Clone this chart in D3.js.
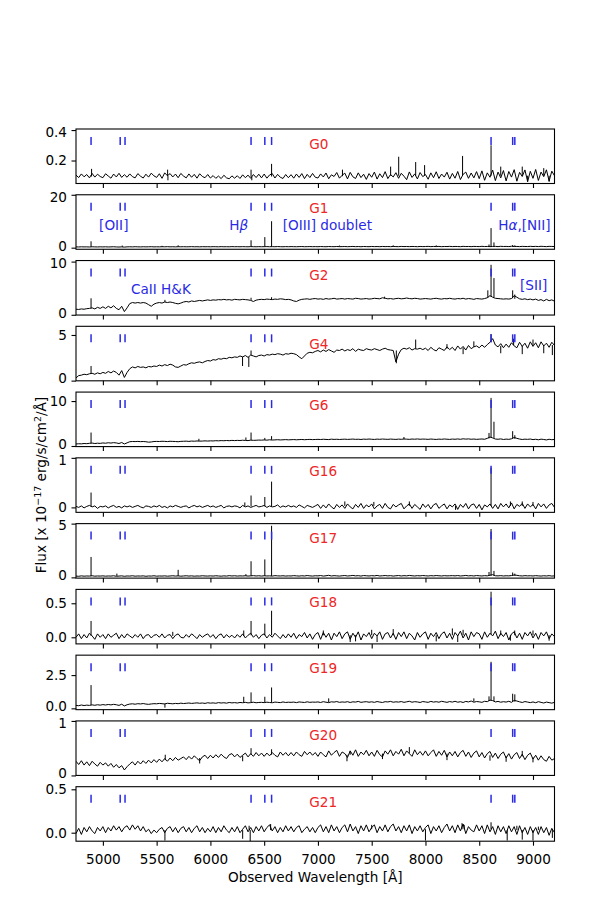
<!DOCTYPE html>
<html><head><meta charset="utf-8">
<script src="https://cdn.jsdelivr.net/npm/d3@7"></script>
<style>body{margin:0;background:#fff}svg{display:block}text{font-family:"DejaVu Sans",sans-serif}</style>
</head><body><svg id="c" width="591" height="909"></svg>
<script>
// ---------------- DATA ----------------
const panelNames = ["G0","G1","G2","G4","G6","G16","G17","G18","G19","G20","G21"];
const wavelengthGrid = d3.range(4750, 9201, 25); // observed wavelength [Å]
const xTicks = [5000,5500,6000,6500,7000,7500,8000,8500,9000];
// redshifted line positions: [OII], CaII K, CaII H, Hβ, [OIII]4959, [OIII]5007, Hα, [SII]6716, [SII]6731
const lineMarkers = [4890,5161,5206,6378,6506,6569,8610,8811,8831];

const fluxG0 = [
0.104,0.088,0.112,0.093,0.108,0.086,0.115,0.091,0.110,0.095,
0.087,0.113,0.098,0.084,0.111,0.092,0.116,0.089,0.107,0.090,
0.112,0.094,0.086,0.114,0.097,0.085,0.110,0.091,0.117,0.099,
0.089,0.113,0.083,0.119,0.100,0.114,0.092,0.111,0.087,0.115,
0.098,0.086,0.112,0.090,0.109,0.084,0.113,0.095,0.087,0.108,
0.085,0.101,0.083,0.098,0.081,0.103,0.086,0.080,0.099,0.084,
0.100,0.082,0.106,0.087,0.104,0.083,0.108,0.088,0.110,0.086,
0.111,0.084,0.105,0.114,0.085,0.109,0.090,0.082,0.108,0.087,
0.107,0.084,0.111,0.089,0.114,0.081,0.109,0.088,0.115,0.090,
0.085,0.112,0.092,0.118,0.080,0.106,0.095,0.121,0.084,0.103,
0.117,0.079,0.122,0.093,0.082,0.119,0.088,0.110,0.076,0.114,
0.090,0.124,0.078,0.113,0.088,0.127,0.081,0.108,0.092,0.120,
0.083,0.116,0.097,0.074,0.125,0.089,0.112,0.079,0.121,0.094,
0.108,0.077,0.119,0.087,0.126,0.082,0.111,0.091,0.123,0.078,
0.115,0.084,0.128,0.075,0.109,0.124,0.083,0.118,0.086,0.127,
0.081,0.132,0.070,0.119,0.090,0.137,0.068,0.124,0.086,0.134,
0.066,0.128,0.091,0.140,0.064,0.122,0.095,0.138,0.062,0.129,
0.083,0.141,0.069,0.124,0.094,0.139,0.065,0.130,0.100];
const fluxG1 = [
0.30,0.27,0.33,0.29,0.31,0.26,0.34,0.30,0.28,0.32,
0.29,0.33,0.27,0.31,0.35,0.28,0.25,0.30,0.22,0.31,
0.34,0.30,0.36,0.32,0.29,0.35,0.31,0.33,0.37,0.30,
0.34,0.31,0.36,0.33,0.38,0.32,0.35,0.30,0.36,0.34,
0.37,0.33,0.35,0.39,0.34,0.36,0.32,0.38,0.35,0.37,
0.34,0.38,0.36,0.33,0.39,0.35,0.37,0.34,0.40,0.36,
0.38,0.35,0.39,0.36,0.34,0.40,0.37,0.35,0.39,0.36,
0.38,0.41,0.36,0.39,0.37,0.42,0.38,0.35,0.40,0.37,
0.41,0.38,0.36,0.40,0.43,0.37,0.39,0.42,0.38,0.40,
0.37,0.43,0.39,0.36,0.44,0.40,0.38,0.45,0.39,0.41,
0.44,0.38,0.42,0.46,0.39,0.43,0.37,0.45,0.41,0.38,
0.46,0.40,0.43,0.38,0.47,0.41,0.44,0.39,0.45,0.42,
0.39,0.48,0.42,0.45,0.40,0.46,0.43,0.38,0.47,0.41,
0.44,0.49,0.40,0.46,0.42,0.48,0.39,0.45,0.43,0.50,
0.41,0.47,0.44,0.39,0.50,0.43,0.46,0.40,0.48,0.45,
0.42,0.51,0.44,0.47,0.40,0.46,0.49,0.41,0.52,0.45,
0.48,0.42,0.53,0.44,0.47,0.41,0.50,0.45,0.43,0.51,
0.44,0.49,0.42,0.52,0.46,0.40,0.50,0.47,0.43];
const fluxG2 = [
1.05,1.00,1.10,1.04,1.15,1.20,1.30,1.10,1.40,1.20,
1.50,1.20,1.60,1.30,1.70,1.20,0.95,1.60,0.60,1.30,
2.10,2.30,2.20,2.30,2.20,2.30,2.20,1.90,1.60,2.00,
2.20,2.30,2.20,2.40,2.30,2.40,2.30,2.15,2.05,2.20,
2.40,2.50,2.40,2.60,2.50,2.60,2.70,2.60,2.70,2.80,
2.70,2.80,2.75,2.85,2.80,2.90,2.80,2.85,2.75,2.90,
2.85,2.80,2.90,2.85,2.80,2.70,2.50,2.75,2.85,2.90,
2.85,2.95,2.90,2.85,2.95,2.90,3.00,2.95,2.85,2.90,
2.80,2.60,2.50,2.75,2.90,2.95,3.00,2.90,3.00,3.05,
2.95,3.00,2.90,3.05,2.95,3.00,3.10,2.95,3.00,3.05,
2.95,3.05,3.00,2.95,3.10,3.05,2.95,3.00,3.05,2.95,
3.00,3.10,3.05,3.00,3.20,3.10,3.00,3.05,2.95,3.05,
3.10,3.00,3.05,3.15,3.05,3.00,3.10,3.05,2.95,3.00,
3.05,3.00,2.95,3.05,3.10,3.00,2.95,3.05,3.00,3.10,
3.00,2.95,3.05,3.00,3.10,2.95,3.05,3.00,2.90,3.05,
3.00,2.95,3.05,3.20,3.60,3.30,3.10,3.05,3.00,2.95,
3.00,2.95,3.05,3.60,3.30,3.00,2.90,3.00,2.85,2.95,
2.80,2.95,2.70,2.85,2.60,2.90,2.65,2.80,2.55];
const fluxG4 = [
0.30,0.55,0.60,0.70,0.65,0.75,0.80,0.70,0.85,0.75,
0.90,0.80,1.00,0.85,1.05,0.90,0.60,1.10,0.35,0.90,
1.30,1.50,1.40,1.55,1.45,1.50,1.40,1.55,1.50,1.60,
1.55,1.70,1.60,1.75,1.65,1.80,1.70,1.50,1.45,1.60,
1.75,1.70,1.85,1.95,1.90,2.00,2.05,1.95,2.10,2.20,
2.15,2.30,2.25,2.40,2.35,2.45,2.40,2.55,2.50,2.60,
2.55,2.70,2.60,2.75,2.55,2.80,2.70,2.60,2.75,2.80,
2.70,2.85,2.80,2.90,2.85,2.95,2.90,2.80,2.95,2.90,
3.00,2.95,2.85,2.60,2.40,2.70,3.00,3.10,3.05,3.20,
3.30,3.15,3.35,3.20,3.40,3.25,3.10,3.35,3.30,3.45,
3.25,3.40,3.30,3.50,3.20,3.45,3.35,3.30,3.50,3.40,
3.35,3.50,3.40,3.30,3.45,3.55,3.40,3.35,3.30,2.05,
2.90,3.40,3.55,3.45,3.60,3.35,3.50,3.45,3.55,3.40,
3.55,3.30,3.65,3.40,3.25,3.60,3.45,3.30,3.70,3.40,
3.65,3.30,3.80,3.45,3.75,3.35,3.85,3.50,3.70,3.80,
3.60,3.90,3.65,3.95,4.20,4.60,3.90,3.70,4.05,3.60,
4.00,3.65,4.15,3.80,3.60,4.20,3.75,4.10,3.55,4.25,
3.75,4.15,3.60,4.25,3.80,4.10,3.65,4.20,3.85];
const fluxG6 = [
0.45,0.50,0.48,0.55,0.52,0.60,0.65,0.55,0.62,0.58,
0.68,0.62,0.72,0.65,0.75,0.68,0.55,0.78,0.45,0.70,
0.95,1.00,0.98,1.02,0.97,1.00,0.95,0.85,0.90,1.00,
1.02,1.00,1.05,1.03,0.98,1.05,1.02,1.00,0.95,1.03,
1.05,1.08,1.02,1.10,1.06,1.12,1.08,1.10,1.14,1.10,
1.15,1.12,1.18,1.15,1.20,1.17,1.22,1.18,1.25,1.20,
1.25,1.22,1.28,1.24,1.20,1.30,1.26,1.28,1.32,1.30,
1.35,1.30,1.38,1.33,1.36,1.40,1.35,1.38,1.42,1.37,
1.40,1.43,1.38,1.42,1.45,1.40,1.44,1.47,1.42,1.45,
1.48,1.44,1.50,1.46,1.43,1.52,1.47,1.50,1.45,1.49,
1.52,1.47,1.50,1.54,1.48,1.51,1.45,1.53,1.49,1.55,
1.50,1.46,1.53,1.49,1.55,1.51,1.48,1.54,1.50,1.47,
1.53,1.49,1.56,1.52,1.48,1.55,1.51,1.57,1.50,1.54,
1.52,1.48,1.55,1.50,1.46,1.53,1.49,1.56,1.51,1.47,
1.54,1.50,1.57,1.49,1.60,1.53,1.58,1.50,1.55,1.48,
1.52,1.56,1.50,1.70,2.00,1.80,1.55,1.50,1.58,1.45,
1.53,1.48,1.60,1.90,1.70,1.55,1.45,1.52,1.48,1.55,
1.42,1.50,1.38,1.52,1.45,1.35,1.50,1.40,1.46];
const fluxG16 = [
0.02,0.00,0.03,-0.01,0.02,0.04,0.01,0.03,-0.02,0.02,
0.01,0.03,-0.01,0.02,0.04,0.00,0.02,-0.01,0.03,0.01,
0.03,0.00,0.02,0.04,0.01,-0.01,0.03,0.02,0.00,0.03,
0.01,0.04,0.00,0.02,-0.01,0.03,0.01,0.04,0.02,0.00,
0.02,0.03,-0.01,0.02,0.04,0.01,0.03,0.00,0.02,0.04,
0.01,0.03,0.00,0.02,0.04,-0.01,0.02,0.03,0.01,0.03,
0.02,-0.01,0.04,0.01,0.03,0.00,0.02,0.04,0.01,0.02,
0.04,0.00,0.03,0.01,0.02,0.05,0.00,0.03,0.01,0.04,
0.01,0.03,0.00,0.05,0.02,-0.01,0.04,0.02,0.00,0.03,
0.06,-0.02,0.05,-0.01,0.07,0.01,-0.03,0.06,0.00,0.05,
-0.02,0.07,0.01,-0.03,0.06,0.00,0.08,-0.02,0.05,0.01,
0.07,-0.03,0.03,0.06,-0.02,0.08,0.00,-0.03,0.06,0.01,
0.05,0.08,-0.03,0.03,0.07,-0.02,0.06,0.01,-0.04,0.07,
0.00,0.06,-0.03,0.05,0.08,-0.02,0.03,0.07,-0.03,0.05,
0.01,0.07,-0.04,0.06,0.00,0.08,-0.03,0.05,0.07,-0.02,
0.06,-0.05,0.05,0.01,0.07,-0.02,0.06,-0.03,0.08,0.01,
0.07,-0.01,0.09,-0.03,0.06,0.02,0.08,-0.02,0.07,0.01,
0.06,-0.03,0.08,0.01,0.07,-0.02,0.05,0.08,0.00];
const fluxG17 = [
0.12,0.10,0.14,0.11,0.13,0.12,0.15,0.11,0.13,0.12,
0.14,0.11,0.13,0.12,0.15,0.10,0.12,0.14,0.10,0.13,
0.12,0.15,0.11,0.13,0.12,0.14,0.10,0.13,0.12,0.15,
0.11,0.13,0.12,0.14,0.11,0.13,0.15,0.12,0.14,0.11,
0.13,0.15,0.12,0.14,0.11,0.13,0.12,0.15,0.13,0.12,
0.14,0.12,0.15,0.13,0.11,0.14,0.12,0.16,0.13,0.15,
0.12,0.14,0.13,0.15,0.12,0.14,0.16,0.13,0.15,0.12,
0.15,0.13,0.14,0.12,0.16,0.14,0.13,0.15,0.12,0.14,
0.13,0.16,0.14,0.12,0.15,0.13,0.17,0.14,0.12,0.15,
0.14,0.17,0.12,0.15,0.19,0.13,0.16,0.14,0.12,0.15,
0.17,0.13,0.15,0.18,0.14,0.16,0.12,0.17,0.15,0.13,
0.16,0.14,0.18,0.13,0.15,0.17,0.14,0.16,0.12,0.15,
0.17,0.13,0.16,0.14,0.18,0.15,0.13,0.16,0.14,0.17,
0.15,0.13,0.16,0.14,0.17,0.15,0.13,0.16,0.14,0.15,
0.16,0.14,0.17,0.13,0.15,0.18,0.14,0.16,0.13,0.17,
0.15,0.13,0.16,0.14,0.20,0.25,0.15,0.14,0.16,0.13,
0.15,0.14,0.17,0.22,0.19,0.15,0.13,0.16,0.14,0.15,
0.13,0.16,0.14,0.12,0.15,0.13,0.16,0.12,0.14];
const fluxG18 = [
0.00,0.05,-0.02,0.04,-0.01,0.06,0.02,-0.03,0.05,0.00,
0.04,-0.02,0.05,0.00,0.03,0.06,-0.02,0.04,-0.01,0.05,
0.02,-0.01,0.04,0.00,0.05,-0.02,0.03,0.04,-0.01,0.03,
0.04,0.00,0.05,-0.01,0.03,0.04,-0.02,0.03,0.05,0.00,
-0.01,0.04,0.00,0.05,0.02,-0.02,0.04,0.00,0.03,0.05,
0.00,0.04,-0.02,0.03,0.05,-0.01,0.04,0.00,0.03,-0.01,
0.04,0.00,0.05,-0.01,0.03,0.06,0.00,0.04,-0.02,0.03,
0.05,-0.01,0.04,0.00,0.06,0.02,-0.02,0.04,-0.01,0.05,
0.00,0.06,-0.02,0.04,0.01,0.07,-0.01,0.05,-0.03,0.04,
0.07,-0.03,0.07,0.00,0.06,-0.04,0.06,0.01,0.08,-0.02,
0.05,0.08,-0.03,0.06,0.00,0.08,-0.04,0.05,0.01,0.07,
-0.02,0.06,0.02,0.08,-0.03,0.05,0.07,-0.01,0.06,-0.03,
0.07,0.01,0.08,-0.02,0.06,0.02,-0.04,0.07,0.00,0.05,
0.08,-0.03,0.06,0.01,0.07,-0.02,0.05,0.08,-0.01,0.06,
-0.03,0.07,0.02,0.09,-0.01,0.06,-0.04,0.08,0.01,0.07,
0.05,-0.03,0.08,0.00,0.06,0.02,0.09,-0.02,0.06,0.01,
0.07,-0.04,0.05,0.08,-0.01,0.06,-0.03,0.07,0.02,0.08,
-0.01,0.06,-0.03,0.07,0.02,0.08,-0.02,0.05,0.01];
const fluxG19 = [
0.22,0.20,0.25,0.21,0.24,0.22,0.26,0.23,0.27,0.24,
0.28,0.25,0.29,0.26,0.30,0.27,0.22,0.31,0.18,0.27,
0.32,0.34,0.31,0.35,0.33,0.36,0.32,0.30,0.33,0.35,
0.34,0.37,0.35,0.33,0.38,0.36,0.34,0.37,0.35,0.39,
0.36,0.38,0.40,0.37,0.39,0.41,0.38,0.40,0.37,0.42,
0.39,0.41,0.38,0.43,0.40,0.42,0.39,0.44,0.41,0.43,
0.40,0.44,0.42,0.45,0.41,0.43,0.46,0.42,0.44,0.45,
0.43,0.46,0.44,0.42,0.47,0.45,0.43,0.48,0.44,0.46,
0.45,0.47,0.43,0.48,0.46,0.44,0.49,0.45,0.47,0.46,
0.48,0.44,0.50,0.46,0.43,0.49,0.47,0.51,0.45,0.48,
0.46,0.50,0.44,0.49,0.47,0.52,0.45,0.48,0.50,0.46,
0.49,0.45,0.51,0.47,0.44,0.50,0.48,0.52,0.46,0.49,
0.47,0.51,0.45,0.49,0.53,0.46,0.50,0.48,0.44,0.51,
0.48,0.45,0.52,0.47,0.50,0.46,0.53,0.49,0.45,0.51,
0.47,0.53,0.46,0.50,0.44,0.52,0.48,0.55,0.46,0.51,
0.49,0.45,0.53,0.50,0.62,0.58,0.48,0.52,0.46,0.50,
0.47,0.53,0.45,0.60,0.55,0.49,0.44,0.51,0.47,0.43,
0.48,0.42,0.50,0.45,0.40,0.47,0.43,0.39,0.45];
const fluxG20 = [
0.26,0.20,0.27,0.19,0.25,0.18,0.26,0.21,0.17,0.24,
0.19,0.23,0.17,0.22,0.15,0.20,0.14,0.18,0.10,0.16,
0.21,0.25,0.19,0.26,0.21,0.27,0.22,0.28,0.23,0.29,
0.24,0.30,0.25,0.31,0.26,0.32,0.27,0.33,0.28,0.31,
0.34,0.29,0.35,0.30,0.36,0.31,0.27,0.34,0.37,0.31,
0.37,0.32,0.38,0.33,0.39,0.34,0.31,0.38,0.40,0.34,
0.39,0.33,0.37,0.41,0.34,0.40,0.35,0.42,0.36,0.41,
0.35,0.41,0.36,0.42,0.37,0.34,0.43,0.37,0.42,0.36,
0.42,0.36,0.43,0.38,0.35,0.44,0.38,0.43,0.37,0.42,
0.35,0.43,0.38,0.34,0.45,0.37,0.42,0.46,0.35,0.43,
0.40,0.33,0.45,0.37,0.47,0.35,0.43,0.38,0.46,0.36,
0.43,0.35,0.46,0.38,0.34,0.45,0.39,0.47,0.36,0.44,
0.39,0.48,0.36,0.45,0.40,0.35,0.47,0.38,0.44,0.37,
0.45,0.36,0.42,0.47,0.35,0.44,0.37,0.46,0.34,0.43,
0.36,0.44,0.34,0.42,0.46,0.35,0.43,0.33,0.41,0.45,
0.34,0.42,0.32,0.40,0.44,0.33,0.41,0.31,0.39,0.43,
0.32,0.40,0.30,0.38,0.42,0.31,0.39,0.29,0.37,0.41,
0.30,0.37,0.28,0.36,0.29,0.26,0.35,0.28,0.31];
const fluxG21 = [
-0.01,0.05,-0.02,0.06,0.01,0.07,0.02,-0.01,0.06,0.02,
0.07,0.00,0.06,0.02,0.08,0.03,0.07,0.01,0.06,0.08,
0.03,0.09,0.04,0.08,0.02,0.07,0.01,0.04,-0.01,0.03,
0.00,0.04,0.06,0.00,0.05,0.07,0.01,0.06,0.00,0.05,
0.07,0.01,0.06,0.00,0.05,0.08,0.01,0.06,0.00,0.05,
0.01,0.07,0.00,0.06,0.01,0.08,0.03,0.00,0.06,0.01,
0.07,0.00,0.04,0.08,0.01,0.06,0.00,0.07,0.02,0.08,
0.01,0.06,0.09,0.02,0.07,0.00,0.06,0.01,0.08,0.02,
0.07,0.01,0.06,0.08,0.00,0.04,0.07,0.01,0.06,0.00,
0.06,0.09,0.01,0.07,0.00,0.09,0.02,0.07,0.00,0.06,
0.09,0.01,0.10,0.02,0.07,-0.01,0.08,0.02,0.09,0.01,
0.06,0.09,0.00,0.07,0.02,0.09,0.01,0.07,0.10,0.02,
0.07,0.00,0.08,0.02,0.09,-0.01,0.07,0.02,0.08,0.01,
0.06,0.09,-0.01,0.07,0.02,0.08,0.00,0.06,0.10,0.02,
0.08,0.00,0.09,0.02,0.10,-0.01,0.07,0.03,0.01,0.09,
0.02,0.08,-0.01,0.09,0.01,0.07,-0.02,0.08,0.01,0.07,
-0.01,0.08,0.01,0.07,-0.02,0.08,0.00,0.06,-0.02,0.07,
0.00,0.06,-0.02,0.07,0.00,0.06,-0.03,0.05,0.00];

// narrow features: [observed wavelength, continuum level, peak level]
const spikesG0 = [[4895,0.095,0.145],[5602,0.098,0.14],[5605,0.098,0.07],[6378,0.092,0.14],[6385,0.092,0.07],[6569,0.095,0.178],[7228,0.097,0.14],[7676,0.1,0.16],[7751,0.1,0.225],[7909,0.1,0.19],[7992,0.1,0.17],[8345,0.1,0.23],[8610,0.1,0.30],[8700,0.1,0.16],[8900,0.1,0.16],[9100,0.1,0.15],[8950,0.1,0.06],[9150,0.1,0.06]];
const spikesG1 = [[4890,0.3,2.4],[5180,0.3,0.8],[5550,0.32,0.7],[5700,0.33,0.9],[6378,0.35,2.8],[6506,0.35,4.0],[6569,0.35,10.0],[7200,0.38,0.8],[7700,0.4,0.9],[8100,0.42,0.9],[8591,0.45,1.2],[8610,0.45,7.4],[8637,0.45,2.0],[8811,0.45,1.0],[8831,0.45,0.9]];
const spikesG2 = [[4890,1.2,3.1],[5577,2.4,2.8],[6378,2.8,3.2],[6569,2.9,3.3],[7620,3.1,3.4],[8580,3.2,4.6],[8610,3.4,9.4],[8637,3.3,6.9],[8811,3.1,4.6],[8831,3.0,3.8]];
const spikesG4 = [[4890,0.8,1.6],[6299,2.6,1.6],[6357,2.6,1.5],[6378,2.8,3.3],[7729,3.3,1.9],[7909,3.5,4.5],[8200,3.5,4.0],[8350,3.6,2.9],[8450,3.7,4.3],[8610,4.2,5.1],[8700,3.8,3.0],[8820,3.9,4.6],[8900,3.8,2.9],[9000,3.9,4.5],[9100,3.9,3.0],[9180,3.9,2.8]];
const spikesG6 = [[4890,0.6,3.0],[5893,1.1,1.6],[6330,1.28,1.9],[6378,1.3,3.0],[6506,1.35,1.8],[6569,1.38,2.2],[7800,1.52,2.0],[8591,1.7,2.9],[8610,1.9,10.7],[8637,1.8,5.4],[8811,1.7,3.3],[8831,1.6,2.4]];
const spikesG16 = [[4890,0.02,0.30],[6320,0.02,0.10],[6378,0.02,0.24],[6506,0.02,0.21],[6569,0.02,0.52],[7250,0.03,0.12],[7520,0.03,0.11],[7850,0.03,0.12],[8280,0.03,-0.05],[8610,0.03,0.80],[8790,0.03,0.12],[8900,0.03,0.12],[9000,0.03,0.11]];
const spikesG17 = [[4890,0.12,1.9],[5130,0.13,0.35],[5700,0.13,0.7],[6330,0.13,0.3],[6378,0.13,1.5],[6506,0.13,1.67],[6569,0.13,4.8],[8591,0.15,0.5],[8610,0.15,4.5],[8637,0.15,0.6],[8811,0.15,0.45],[8831,0.15,0.35]];
const spikesG18 = [[4890,0.02,0.24],[5650,0.02,0.08],[6310,0.02,0.10],[6378,0.03,0.24],[6506,0.03,0.20],[6569,0.03,0.39],[7050,0.03,0.10],[7300,0.03,-0.07],[7350,0.03,-0.06],[7500,0.03,0.11],[7550,0.03,-0.07],[7700,0.03,0.12],[8100,0.03,-0.06],[8250,0.03,0.13],[8300,0.03,-0.07],[8350,0.03,0.11],[8610,0.04,0.67],[8700,0.03,0.10],[8790,0.03,-0.05],[8830,0.03,0.10],[9000,0.03,0.10],[9150,0.03,-0.05]];
const spikesG19 = [[4890,0.25,1.75],[5577,0.35,0.05],[6310,0.45,0.87],[6378,0.45,1.2],[6506,0.45,0.87],[6569,0.45,1.57],[7100,0.47,0.75],[8450,0.5,0.75],[8591,0.55,0.9],[8610,0.6,3.5],[8637,0.55,0.9],[8811,0.5,1.1],[8831,0.5,1.05]];
const spikesG20 = [[5580,0.28,0.38],[5900,0.32,0.22],[6300,0.36,0.26],[6378,0.38,0.5],[6569,0.38,0.48],[7270,0.38,0.26],[7300,0.38,0.45],[7600,0.4,0.3],[7850,0.4,0.52],[8200,0.4,0.28],[8600,0.37,0.27],[8750,0.35,0.25],[8900,0.35,0.45],[9000,0.33,0.24]];
const spikesG21 = [[5577,0.03,-0.09],[6300,0.03,-0.07],[6360,0.03,0.08],[6370,0.03,-0.1],[6560,0.03,0.1],[7500,0.04,0.09],[8000,0.04,-0.09],[8340,0.04,0.11],[8360,0.04,0.09],[8610,0.04,0.12],[8760,0.03,-0.09],[8850,0.03,0.08],[8900,0.03,-0.08],[9000,0.03,-0.09],[9050,0.03,0.07],[9180,0.03,-0.06]];

const yDomains = [[0.049,0.407],[-0.6,20.0],[-0.05,10.2],[-0.02,5.95],[-0.13,12.0],[-0.1,1.0],[-0.07,5.0],[-0.097,0.704],[-0.1,4.0],[0.0,1.0],[-0.098,0.53]];
const yTickValues = [[0.2,0.4],[0,20],[0,10],[0,5],[0,10],[0,1],[0,5],[0.0,0.5],[0.0,2.5],[0,1],[0.0,0.5]];
const yTickLabels = [["0.2","0.4"],["0","20"],["0","10"],["0","5"],["0","10"],["0","1"],["0","5"],["0.0","0.5"],["0.0","2.5"],["0","1"],["0.0","0.5"]];

const fluxes = [fluxG0,fluxG1,fluxG2,fluxG4,fluxG6,fluxG16,fluxG17,fluxG18,fluxG19,fluxG20,fluxG21];
const spikes = [spikesG0,spikesG1,spikesG2,spikesG4,spikesG6,spikesG16,spikesG17,spikesG18,spikesG19,spikesG20,spikesG21];

// line-name annotations: panel index, wavelength of text start, text parts
const annotations = [
  {panel:1, w:4965, parts:[["[OII]",""]], dy:35.5},
  {panel:1, w:6176, parts:[["H",""],["β","italic"]], dy:35.5},
  {panel:1, w:6672, parts:[["[OIII] doublet",""]], dy:35.5},
  {panel:1, w:8677, parts:[["H",""],["α","italic"],[",[NII]",""]], dy:35.5},
  {panel:2, w:5261, parts:[["CaII H&K",""]], dy:33.5},
  {panel:2, w:8879, parts:[["[SII]",""]], dy:29.5}
];
const labelDy = [20.3,18.5,19.5,23,18,18,19.5,18,18,19.5,20];

// ---------------- LAYOUT ----------------
const W = 591, H = 909;
const L = 76, R = 554.5, TOP = 129, PITCH = 65.77, PH = 54.5;
const FS = 13.6;
const BLUE = "#2a2ae6", RED = "#ee2626";

const svg = d3.select("#c");
svg.append("rect").attr("width",W).attr("height",H).attr("fill","#fff");
const x = d3.scaleLinear().domain([4750,9200]).range([L,R]);
const defs = svg.append("defs");

panelNames.forEach((name,k)=>{
  const top = TOP + k*PITCH, bot = top + PH;
  const y = d3.scaleLinear().domain(yDomains[k]).range([bot, top]);
  const g = svg.append("g");
  defs.append("clipPath").attr("id","clip"+k).append("rect")
    .attr("x",L).attr("y",top).attr("width",R-L).attr("height",PH);
  const inner = g.append("g").attr("clip-path","url(#clip"+k+")");

  const line = d3.line().x((d,i)=>x(wavelengthGrid[i])).y(d=>y(d));
  inner.append("path").datum(fluxes[k]).attr("d",line)
    .attr("fill","none").attr("stroke","#000").attr("stroke-width",1.0).attr("stroke-linejoin","round");
  inner.selectAll("line.sp").data(spikes[k]).join("line").attr("class","sp")
    .attr("x1",d=>x(d[0])).attr("x2",d=>x(d[0]))
    .attr("y1",d=>y(d[1])).attr("y2",d=>y(d[2]))
    .attr("stroke","#000").attr("stroke-width",1.0);

  // line markers
  g.selectAll("line.mk").data(lineMarkers).join("line").attr("class","mk")
    .attr("x1",d=>x(d)).attr("x2",d=>x(d))
    .attr("y1",top+8).attr("y2",top+16)
    .attr("stroke",BLUE).attr("stroke-width",1.5);

  // panel label
  g.append("text").attr("x",x(6920)).attr("y",top+labelDy[k])
    .attr("fill",RED).attr("font-size",FS).text(name);

  // frame
  g.append("rect").attr("x",L).attr("y",top).attr("width",R-L).attr("height",PH)
    .attr("fill","none").attr("stroke","#000").attr("stroke-width",1.1);

  // y axis
  const ya = g.append("g").attr("transform",`translate(${L},0)`)
    .call(d3.axisLeft(y).tickValues(yTickValues[k]).tickFormat((d,i)=>yTickLabels[k][i])
      .tickSize(4.5).tickPadding(4.5).tickSizeOuter(0));
  // keep labels at the panel edges from colliding with the neighbouring panel's labels
  ya.selectAll(".tick text").attr("y",d=>{
    const p = y(d);
    if (bot - p < 2.5) return -2;
    if (p - top < 2.5) return 2;
    return 0;
  });
  // x axis
  const xa = g.append("g").attr("transform",`translate(0,${bot})`)
    .call(d3.axisBottom(x).tickValues(xTicks).tickFormat(k===panelNames.length-1 ? d3.format("d") : "")
      .tickSize(4.5).tickPadding(8.4).tickSizeOuter(0));
  [ya,xa].forEach(a=>{
    a.select(".domain").remove();
    a.selectAll(".tick line").attr("stroke","#000").attr("stroke-width",1.1);
    a.selectAll(".tick text").attr("fill","#000").attr("font-size",FS).attr("font-family","DejaVu Sans");
  });
});

// annotations
annotations.forEach(a=>{
  const top = TOP + a.panel*PITCH;
  const t = svg.append("text").attr("x",x(a.w)).attr("y",top+a.dy).attr("fill",BLUE).attr("font-size",FS);
  a.parts.forEach(p=>{ const s=t.append("tspan").text(p[0]); if(p[1]) s.attr("font-style",p[1]); });
});

// axis titles
svg.append("text").attr("x",(L+R)/2).attr("y",882).attr("text-anchor","middle")
  .attr("font-size",FS).attr("fill","#000").text("Observed Wavelength [Å]");
const yl = svg.append("text").attr("transform",`translate(46,${TOP+(10*PITCH+PH)/2}) rotate(-90)`)
  .attr("text-anchor","middle").attr("font-size",FS).attr("fill","#000");
yl.append("tspan").text("Flux [x 10");
yl.append("tspan").attr("dy",-5.5).attr("font-size",9.5).text("−17");
yl.append("tspan").attr("dy",5.5).text(" erg/s/cm");
yl.append("tspan").attr("dy",-5.5).attr("font-size",9.5).text("2");
yl.append("tspan").attr("dy",5.5).text("/Å]");
</script></body></html>
